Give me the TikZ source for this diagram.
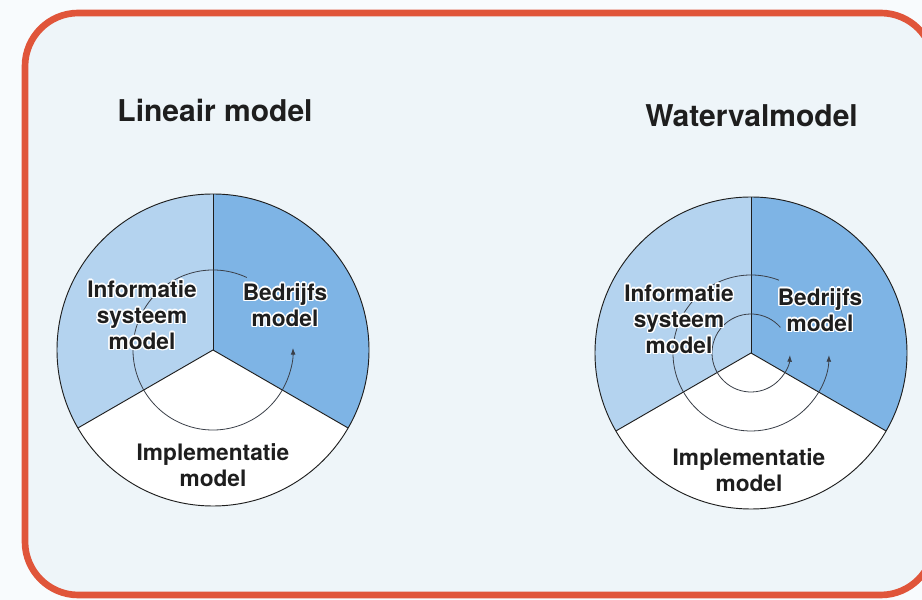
\documentclass[tikz,border=0pt]{standalone}
\usepackage{fontspec}
\setmainfont{TeX Gyre Heros}
\usetikzlibrary{arrows.meta,calc}

\definecolor{pagebg}{HTML}{EEF5F9}
\definecolor{framered}{HTML}{E0553A}
\definecolor{lightsector}{HTML}{B4D3EF}
\definecolor{darksector}{HTML}{7EB4E5}
\definecolor{ink}{HTML}{1E1E1E}
\definecolor{cyclegray}{HTML}{3A3F48}

\tikzset{
  labeltext/.style={font=\bfseries\fontsize{17}{19.5}\selectfont, align=center, text=ink, inner sep=0pt},
  titletext/.style={font=\bfseries\fontsize{22.5}{26}\selectfont, text=ink, inner sep=0pt, anchor=base},
  rim/.style={draw=ink, line width=0.7},
  cycle arrow/.style={draw=cyclegray, line width=0.6, -{Latex[length=5pt,width=3.6pt]}},
}

% bold label with a thin white halo around the letters
\newcommand\halolabel[3]{%
  \foreach \ang in {0,30,...,330}{%
    \node[labeltext,text=white] at ($(#2)+(\ang:1.4)$) {#3};
  }%
  \node[labeltext] (#1) at (#2) {#3};%
}

% three-sector disc: light upper left, darker right, white bottom
\newcommand\sectordisc[1]{%
  \fill[lightsector] (#1) -- ++(90:156) arc[start angle=90, end angle=210, radius=156] -- cycle;
  \fill[darksector] (#1) -- ++(-30:156) arc[start angle=-30, end angle=90, radius=156] -- cycle;
  \fill[white] (#1) -- ++(210:156) arc[start angle=210, end angle=330, radius=156] -- cycle;
  \draw[rim] (#1) -- ++(90:156);
  \draw[rim] (#1) -- ++(210:156);
  \draw[rim] (#1) -- ++(330:156);
  \draw[rim] (#1) circle[radius=156];
}

\begin{document}
\begin{tikzpicture}[x=0.75pt, y=0.75pt]
  \useasboundingbox (0,0) rectangle (922,600);
  \fill[white!60!pagebg] (0,0) rectangle (922,600);
  \begin{scope}
    \clip (0,0) rectangle (922,600);
    \fill[pagebg, rounded corners=40] (25,5) rectangle (934,587);
    \draw[framered, line width=5, rounded corners=40] (25,5) rectangle (934,587);
  \end{scope}

  \coordinate (lin) at (213,250);
  \coordinate (wat) at (751,247);

  % linear model
  \node[titletext] (lintitle) at (215,478) {Lineair model};
  \sectordisc{lin}
  \draw[cycle arrow] ($(lin)+(65:80)$) arc[start angle=65, end angle=361.5, radius=80];
  \halolabel{linis}{142,285}{Informatie\\systeem\\model}
  \halolabel{linbm}{285,295}{Bedrijfs\\model}
  \halolabel{linim}{213,135}{Implementatie\\model}

  % waterfall model
  \node[titletext] (wattitle) at (751.5,473) {Watervalmodel};
  \sectordisc{wat}
  \draw[cycle arrow] ($(wat)+(69:78)$) arc[start angle=69, end angle=358.5, radius=78];
  \draw[cycle arrow] ($(wat)+(41:39)$) arc[start angle=41, end angle=357, radius=39];
  \halolabel{watis}{679,281}{Informatie\\systeem\\model}
  \halolabel{watbm}{820,290}{Bedrijfs\\model}
  \halolabel{watim}{749,130}{Implementatie\\model}
\end{tikzpicture}
\end{document}
